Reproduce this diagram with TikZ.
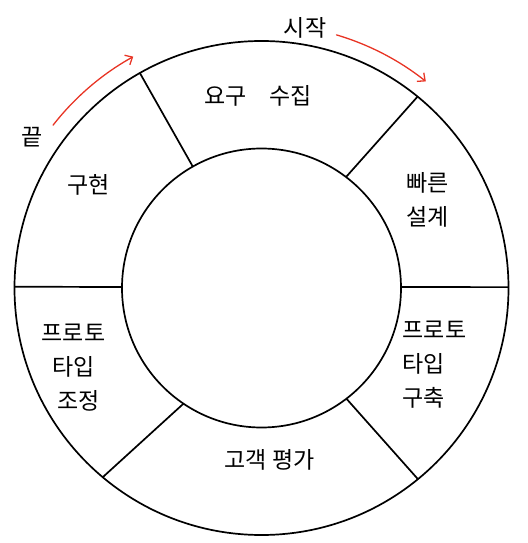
\documentclass[tikz,border=0pt]{standalone}
\usepackage{fontspec}
\newfontfamily\kofont{Noto Sans CJK KR}
\usetikzlibrary{arrows.meta}
\definecolor{penred}{RGB}{232,52,36}
\newcommand{\ringcut}[2]{%
  \draw (#1:139.5) -- (#2:247);
}
\tikzset{
  stagelabel/.style={align=center,inner sep=0pt},
  flowarrow/.style={draw=penred,line width=1.3pt,line cap=round,-{Straight Barb[length=6pt,width=11pt]}}
}

\begin{document}
\begin{tikzpicture}[x=1pt,y=1pt,line width=1.7pt,font=\kofont\fontsize{23}{34}\selectfont]
  \useasboundingbox (-261.5,-255) rectangle (265.5,288);
  % ring
  \draw (0,0) circle[radius=247];
  \draw (0,0) circle[radius=139.5];
  \ringcut{119.5}{119.5}
  \ringcut{52.7}{50.8}
  \ringcut{0.4}{0.2}
  \ringcut{-52.5}{-50.7}
  \ringcut{-124}{-130}
  \ringcut{179.6}{179.7}
  % stages
  \node[stagelabel] (gather) at (-3.5,192) {요구\quad 수집};
  \node[stagelabel] (design) at (166,88) {빠른\\ 설계};
  \node[stagelabel,align=left] (build) at (173,-77) {프로토\\ 타입\\ 구축};
  \node[stagelabel] (review) at (8,-172) {고객 평가};
  \node[stagelabel] (refine) at (-188,-80) {프로토\\ 타입\\ \hspace{10pt}조정};
  \node[stagelabel] (impl) at (-173,103) {구현};
  % start / end
  \node[stagelabel] (start) at (43.5,260) {시작};
  \node[stagelabel] (finish) at (-229.5,151) {끝};
  \coordinate (s0) at (73.5:264);
  \coordinate (e0) at (142:264.5);
  \draw[flowarrow] (s0) arc[start angle=73.5,end angle=51.5,radius=264];
  \draw[flowarrow] (e0) arc[start angle=142,end angle=119,radius=264.5];
\end{tikzpicture}
\end{document}
